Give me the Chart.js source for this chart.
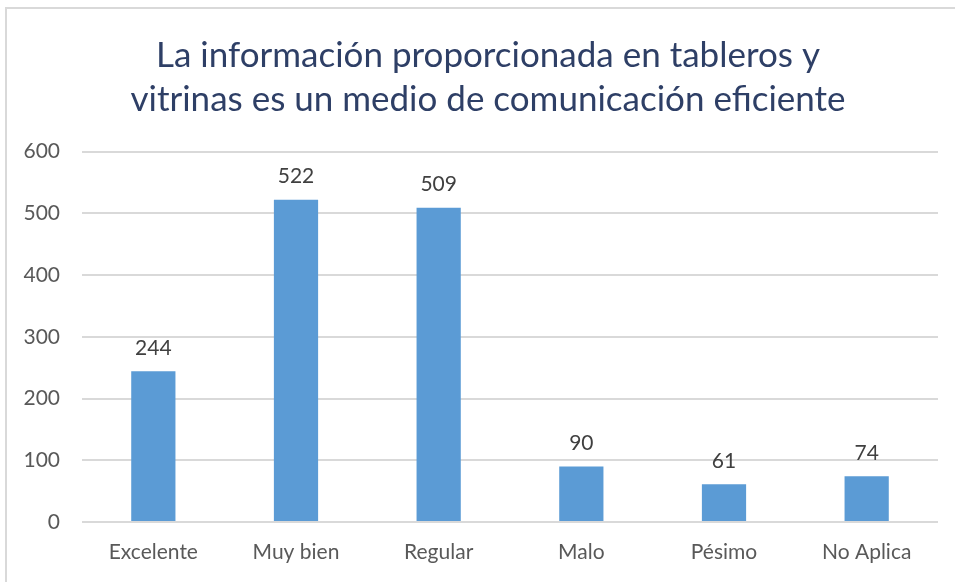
<!DOCTYPE html>
<html>
<head>
<meta charset="utf-8">
<script src="https://cdn.jsdelivr.net/npm/chart.js@4"></script>
<style>
  html, body { margin: 0; padding: 0; background: #fff; }
  #wrap { position: relative; width: 955px; height: 582px; overflow: hidden; }
  #frame { position: absolute; left: 5px; top: 7px; width: 1000px; height: 1000px;
           border-left: 2px solid #d9d9d9; border-top: 2px solid #d9d9d9; }
  canvas { position: absolute; left: 0; top: 0; }
</style>
</head>
<body>
<div id="wrap">
  <div id="frame"></div>
  <canvas id="chart" width="955" height="582"></canvas>
</div>
<script>
// Chart data
const categories = ['Excelente', 'Muy bien', 'Regular', 'Malo', 'Pésimo', 'No Aplica'];
const values = [244, 522, 509, 90, 61, 74];
const yTicks = [0, 100, 200, 300, 400, 500, 600];
const titleLines = ['La información proporcionada en tableros y', 'vitrinas es un medio de comunicación eficiente'];

const fontFamily = 'Lato, "Open Sans", sans-serif';

// Draw the value above each bar
const valueLabels = {
  id: 'valueLabels',
  afterDatasetsDraw(chart) {
    const ctx = chart.ctx;
    const meta = chart.getDatasetMeta(0);
    ctx.save();
    ctx.font = '21px ' + fontFamily;
    ctx.fillStyle = '#404040';
    ctx.textAlign = 'center';
    ctx.textBaseline = 'bottom';
    meta.data.forEach((bar, i) => {
      ctx.fillText(values[i], bar.x, bar.y - 13);
    });
    ctx.restore();
  }
};

// Centre the title a bit right of the canvas centre, like the original
const shiftTitle = {
  id: 'shiftTitle',
  afterLayout(chart) {
    if (chart.titleBlock) {
      chart.titleBlock.left = 38;
      chart.titleBlock.right = 938;
    }
  }
};

new Chart(document.getElementById('chart'), {
  type: 'bar',
  data: {
    labels: categories,
    datasets: [{
      data: values,
      backgroundColor: '#5b9bd5',
      barPercentage: 0.31,
      categoryPercentage: 1
    }]
  },
  options: {
    responsive: false,
    animation: false,
    layout: { padding: { left: 0, right: 17, top: 0, bottom: 0 } },
    scales: {
      x: {
        grid: { display: false },
        border: { display: false },
        ticks: { color: '#595959', font: { family: fontFamily, size: 21 }, padding: 10 },
        afterFit: scale => { scale.height = 60; }
      },
      y: {
        min: 0,
        max: 600,
        afterBuildTicks: scale => { scale.ticks = yTicks.map(v => ({ value: v })); },
        grid: { color: '#d9d9d9', lineWidth: 2, drawTicks: false },
        border: { display: false },
        ticks: { color: '#595959', font: { family: fontFamily, size: 21 }, padding: 22 },
        afterFit: scale => { scale.width = 82; }
      }
    },
    plugins: {
      legend: { display: false },
      tooltip: { enabled: false },
      title: {
        display: true,
        text: titleLines,
        color: '#2e3f66',
        font: { family: fontFamily, size: 35, weight: 'normal', lineHeight: 1.25 },
        padding: { top: 34, bottom: 30 }
      }
    }
  },
  plugins: [valueLabels, shiftTitle]
});
</script>
</body>
</html>
